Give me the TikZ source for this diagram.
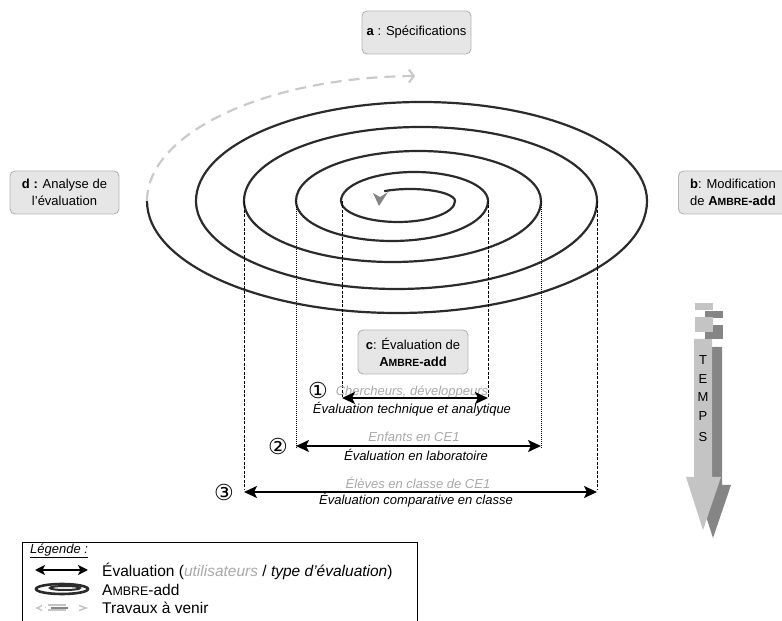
\documentclass[tikz,border=0pt]{standalone}
\usepackage{fontspec}
\setmainfont{Liberation Sans}
\newfontfamily\symfont{DejaVu Sans}
\usepackage{graphicx}
\usetikzlibrary{arrows.meta}
\definecolor{boxfill}{HTML}{E6E6E6}
\definecolor{boxline}{HTML}{B4B4B4}
\definecolor{spiralc}{HTML}{2B2B2B}
\definecolor{lightg}{HTML}{C4C4C4}
\definecolor{darkg}{HTML}{858585}
\definecolor{txtg}{HTML}{A8A8A8}
\definecolor{dashg}{HTML}{CACACA}
\newcommand\ambre{A\scalebox{0.8}{MBRE}}
\begin{document}
\begin{tikzpicture}[x=1pt,y=1pt,
  stagebox/.style={draw=boxline, fill=boxfill, rounded corners=5pt, line width=0.9pt,
    minimum width=109pt, minimum height=43pt, align=center, inner sep=1pt,
    font=\fontsize{13}{17}\selectfont},
  spiralline/.style={draw=spiralc, line width=2.2pt},
  dashline/.style={draw=dashg, line width=2.2pt, dash pattern=on 11pt off 7pt,
    -{Straight Barb[length=5pt,width=13pt]}},
  vdash/.style={draw=black, line width=0.7pt, dash pattern=on 3pt off 1.5pt},
  vdot/.style={draw=black, line width=0.7pt, dash pattern=on 0.8pt off 1.2pt},
  evalarrow/.style={draw=black, line width=2pt,
    {Stealth[length=13pt,width=12pt,inset=3pt]}-{Stealth[length=13pt,width=12pt,inset=3pt]}},
  graylbl/.style={font=\fontsize{13}{15}\selectfont\itshape, text=txtg, inner sep=0pt},
  blacklbl/.style={font=\fontsize{13}{15}\selectfont\itshape, text=black, inner sep=0pt},
  numlbl/.style={font=\symfont\fontsize{22}{22}\selectfont, inner sep=0pt},
  templetter/.style={font=\fontsize{13}{15}\selectfont, inner sep=0pt},
  legtxt/.style={font=\fontsize{15.5}{18}\selectfont, anchor=west, inner sep=0pt}
]
\useasboundingbox (0,0) rectangle (782,621);

% spiral
\draw[spiralline] (384.19,429.83)
 arc[start angle=125,end angle=0,x radius=45pt,y radius=12pt]
 arc[start angle=0,end angle=-180,x radius=57pt,y radius=21pt]
 arc[start angle=180,end angle=0,x radius=73.5pt,y radius=29pt]
 arc[start angle=0,end angle=-180,x radius=96pt,y radius=40pt]
 arc[start angle=180,end angle=0,x radius=122.5pt,y radius=50pt]
 arc[start angle=0,end angle=-180,x radius=148.5pt,y radius=61pt]
 arc[start angle=180,end angle=0,x radius=176.5pt,y radius=74pt]
 arc[start angle=0,end angle=-180,x radius=200.5pt,y radius=88pt]
 arc[start angle=180,end angle=0,x radius=225.5pt,y radius=99pt]
 arc[start angle=0,end angle=-180,x radius=250pt,y radius=112pt];
% centre arrowhead
\fill[darkg] (373,428) -- (380,424) -- (388,429) -- (379,415) -- cycle;
% future work
\draw[dashline] (147,420) arc[start angle=180,end angle=91,x radius=273pt,y radius=125pt];

% stage boxes
\node[stagebox] (a) at (416.5,588.5) {\textbf{a} : Spécifications};
\node[stagebox] (b) at (733,428.5) {\textbf{b}: Modification\\de \textbf{\ambre-add}};
\node[stagebox] (d) at (64.5,428.5) {\textbf{d :} Analyse de\\l’évaluation};
\node[stagebox, minimum width=110pt, minimum height=44pt] (c) at (413,269) {\textbf{c}: Évaluation de\\\textbf{\ambre-add}};

% vertical guides
\coordinate (t1l) at (342,420); \coordinate (b1l) at (342,223);
\coordinate (t1r) at (488,420); \coordinate (b1r) at (488,223);
\coordinate (t2l) at (296,420); \coordinate (b2l) at (296,175);
\coordinate (t2r) at (541,420); \coordinate (b2r) at (541,175);
\coordinate (t3l) at (244,420); \coordinate (b3l) at (244,129);
\coordinate (t3r) at (597,420); \coordinate (b3r) at (597,129);
\draw[vdash] (t1l) -- (b1l);
\draw[vdash] (t1r) -- (b1r);
\draw[vdot] (t2l) -- ([yshift=-2pt]b2l);
\draw[vdot] (t2r) -- ([yshift=-2pt]b2r);
\draw[vdash] (t3l) -- ([yshift=2pt]b3l);
\draw[vdash] (t3r) -- ([yshift=2pt]b3r);

% labels (behind arrows)
\node[graylbl] (u1) at (412,229) {Chercheurs, développeurs};
\node[blacklbl] (e1) at (412,212) {Évaluation technique et analytique};
\node[graylbl] (u2) at (414,184) {Enfants en CE1};
\node[blacklbl] (e2) at (416,166) {Évaluation en laboratoire};
\node[graylbl] (u3) at (418,138) {Élèves en classe de CE1};
\node[blacklbl] (e3) at (416,121) {Évaluation comparative en classe};

% evaluation arrows
\draw[evalarrow] (b1l) -- (b1r);
\draw[evalarrow] (b2l) -- (b2r);
\draw[evalarrow] (b3l) -- (b3r);

\node[numlbl] (n1) at (318,231) {①};
\node[numlbl] (n2) at (278,175) {②};
\node[numlbl] (n3) at (224,129) {③};

% TEMPS arrow
\fill[darkg] (704,274) -- (722,274) -- (722,136) -- (731,136) -- (713,83) -- (696,136) -- (704,136) -- cycle;
\fill[lightg] (694,282) -- (712,282) -- (712,144) -- (721,144) -- (703,91) -- (686,144) -- (694,144) -- cycle;
\fill[darkg] (705,303) rectangle (723,310);
\fill[darkg] (705,282) rectangle (723,296);
\fill[lightg] (695,311) rectangle (713,318);
\fill[lightg] (695,289) rectangle (713,304);
\node[templetter] (tT) at (703,261) {T};
\node[templetter] (tE) at (703,242) {E};
\node[templetter] (tM) at (703,224) {M};
\node[templetter] (tP) at (703,205) {P};
\node[templetter] (tS) at (703,184) {S};

% legend
\draw[line width=0.8pt] (22,-5) rectangle (417,79);
\node[font=\fontsize{13}{15}\selectfont\itshape, anchor=west, inner sep=0pt] (lg) at (30,70) {\underline{Légende :}};
\coordinate (la1) at (35,51); \coordinate (la2) at (88,51);
\draw[line width=2pt, {Stealth[length=10pt,width=10pt,inset=2.5pt]}-{Stealth[length=10pt,width=10pt,inset=2.5pt]}] (la1) -- (la2);
\node[legtxt] (l1) at (102,50) {Évaluation (\textcolor{txtg}{\textit{utilisateurs}} / \textit{type d’évaluation})};
\draw[spiralc, line width=2.6pt] (62,32) ellipse [x radius=26pt, y radius=5pt];
\draw[spiralc, line width=2pt] (65,33) ellipse [x radius=15pt, y radius=2pt];
\node[legtxt] (l2) at (102,31) {\ambre-add};
\draw[lightg, line width=1.5pt] (42,15.5) -- (37,13) -- (42,10.5);
\fill[lightg] (44.5,12.5) rectangle (46,14);
\fill[lightg] (48,14.5) rectangle (66,16.5);
\fill[darkg] (51,12) rectangle (68,14);
\fill[lightg] (48,9.5) rectangle (66,11.5);
\draw[lightg, line width=1.5pt] (79,15.5) -- (86,13) -- (79,10.5);
\node[legtxt] (l3) at (102,13) {Travaux à venir};
\end{tikzpicture}
\end{document}
